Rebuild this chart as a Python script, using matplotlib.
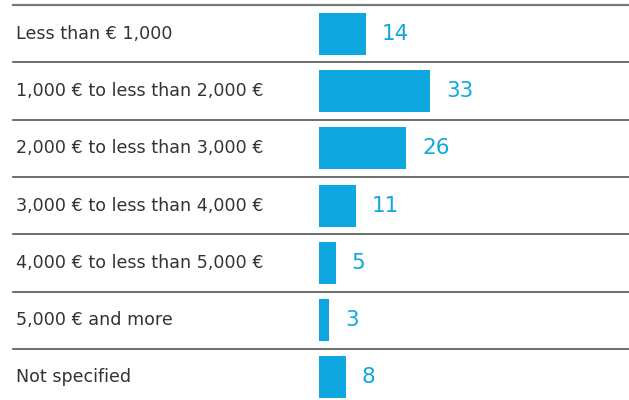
import matplotlib.pyplot as plt
from matplotlib.transforms import blended_transform_factory

# Daten
categories = [
    "Less than € 1,000",
    "1,000 € to less than 2,000 €",
    "2,000 € to less than 3,000 €",
    "3,000 € to less than 4,000 €",
    "4,000 € to less than 5,000 €",
    "5,000 € and more",
    "Not specified",
]
values = [14, 33, 26, 11, 5, 3, 8]

bar_color = "#0ea7df"
text_color = "#333333"

fig = plt.figure(figsize=(6.29, 4.00), dpi=100)
ax = fig.add_axes([319 / 629, 0, 310 / 629, 1])

rows = list(range(len(values)))
ax.barh(rows, values, height=0.733, color=bar_color, align="center")
ax.set_xlim(0, 310 / 3.36)
ax.set_ylim(6.393, -0.587)
ax.axis("off")

trans = blended_transform_factory(fig.transFigure, ax.transData)

# Trennlinien
for i in rows:
    lw = 1.6 if i == 0 else 1.2
    col = "#777777" if i == 0 else "#555555"
    ax.plot([13 / 629, 1], [i - 0.5, i - 0.5], transform=trans, color=col,
            lw=lw, clip_on=False)

for i, (cat, v) in enumerate(zip(categories, values)):
    ax.text(16 / 629, i, cat, transform=trans, va="center", ha="left",
            fontsize=12.6, color=text_color, family="DejaVu Sans")
    ax.annotate(str(v), (v, i), xytext=(11.5, 0), textcoords="offset points",
                va="center", ha="left", fontsize=15.5, color=bar_color,
                family="DejaVu Sans")

fig.savefig("out.png", dpi=100)
